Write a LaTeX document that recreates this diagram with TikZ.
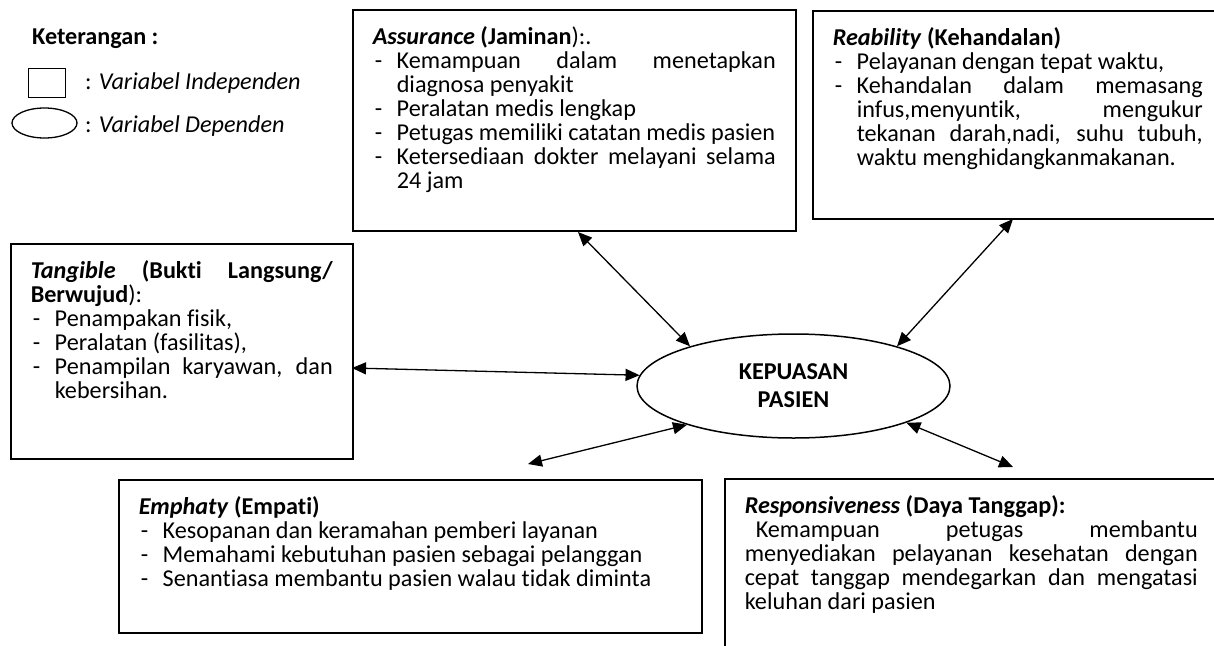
\documentclass[tikz,border=0pt]{standalone}
\usepackage{fontspec}
\setmainfont{Carlito}[Ligatures=NoCommon]
\usetikzlibrary{arrows.meta,shapes.geometric}

% dash item with hanging indent
\newcommand{\butir}[1]{\par\hangindent=24pt\hangafter=1\noindent\makebox[24pt][l]{\hspace{2pt}-}#1}
% text block of fixed width and height
\newcommand{\isi}[3]{\parbox[c][#2][t]{#1}{\hyphenpenalty=10000\exhyphenpenalty=10000#3}}

\tikzset{
  varbox/.style={draw, line width=1.5pt, anchor=north west, inner xsep=20pt, inner ysep=17pt},
  legtext/.style={anchor=base west, inner sep=0pt},
  link/.style={{Triangle[length=14pt,width=12pt]}-{Triangle[length=14pt,width=12pt]}, line width=1.3pt}
}

\begin{document}
\begin{tikzpicture}[x=1pt, y=-1pt, font=\fontsize{24.2}{24}\selectfont]
        \useasboundingbox (0,0) rectangle (1214,645);

        % Legend
        \node[legtext, font=\fontsize{24.2}{24}\selectfont\bfseries] (ket) at (32,44) {Keterangan :};
        \node[draw, line width=1.3pt, minimum width=37pt, minimum height=29pt, inner sep=0pt, anchor=north west] (lgkotak) at (28,68) {};
        \node[legtext] (lgind) at (85,89) {: \textit{Variabel Independen}};
        \node[draw, ellipse, line width=1.3pt, minimum width=65pt, minimum height=30pt, inner sep=0pt] (lgelips) at (44.5,123) {};
        \node[legtext] (lgdep) at (85,132) {: \textit{Variabel Dependen}};

        % Dependent variable
        \node[draw, ellipse, line width=1.5pt, minimum width=313pt, minimum height=104pt, inner sep=0pt,
              align=center, font=\fontsize{24.2}{24}\selectfont\bfseries] (kp) at (793.5,386) {KEPUASAN\\[4pt]PASIEN};

        % Independent variables
        \node[varbox] (asr) at (352,9) {\isi{403pt}{187pt}{%
            \textbf{\textit{Assurance} (Jaminan}):.
            \butir{Kemampuan dalam menetapkan\linebreak diagnosa penyakit}
            \butir{Peralatan medis lengkap}
            \butir{Petugas memiliki catatan medis pasien}
            \butir{Ketersediaan dokter melayani selama\linebreak 24 jam}}};

        \node[varbox] (rea) at (812,10) {\isi{370pt}{174pt}{%
            \textbf{\textit{Reability} (Kehandalan)}
            \butir{Pelayanan dengan tepat waktu,}
            \butir{Kehandalan dalam memasang\linebreak infus,menyuntik, mengukur\linebreak tekanan darah,nadi, suhu tubuh,\linebreak waktu menghidangkanmakanan.}}};

        \node[varbox] (tan) at (10,243) {\isi{302pt}{181pt}{%
            \textbf{\textit{Tangible} (Bukti Langsung/\linebreak Berwujud}):
            \butir{Penampakan fisik,}
            \butir{Peralatan (fasilitas),}
            \butir{Penampilan karyawan, dan\linebreak kebersihan.}}};

        \node[varbox] (emp) at (118,479) {\isi{543pt}{119pt}{%
            \textbf{\textit{Emphaty} (Empati)}
            \butir{Kesopanan dan keramahan pemberi layanan}
            \butir{Memahami kebutuhan pasien sebagai pelanggan}
            \butir{Senantiasa membantu pasien walau tidak diminta}}};

        \node[varbox] (res) at (724,478) {\isi{453pt}{180pt}{%
            \textbf{\textit{Responsiveness} (Daya Tanggap):}\par
            \noindent\hspace*{11pt}Kemampuan petugas membantu\linebreak menyediakan pelayanan kesehatan dengan\linebreak cepat tanggap mendegarkan dan mengatasi\linebreak keluhan dari pasien}};

        % Coordinates
        \coordinate (asrend) at (578,232);
        \coordinate (reaend) at (1013,219);
        \coordinate (tanend) at (352,368);
        \coordinate (empend) at (528,464);
        \coordinate (resend) at (1013,467);

        % Arrows
        \draw[link] (asrend) -- (kp.159);
        \draw[link] (reaend) -- (kp.21);
        \draw[link] (tanend) -- (kp.176);
        \draw[link] (empend) -- (kp.200);
        \draw[link] (resend) -- (kp.342);
    \end{tikzpicture}
\end{document}
